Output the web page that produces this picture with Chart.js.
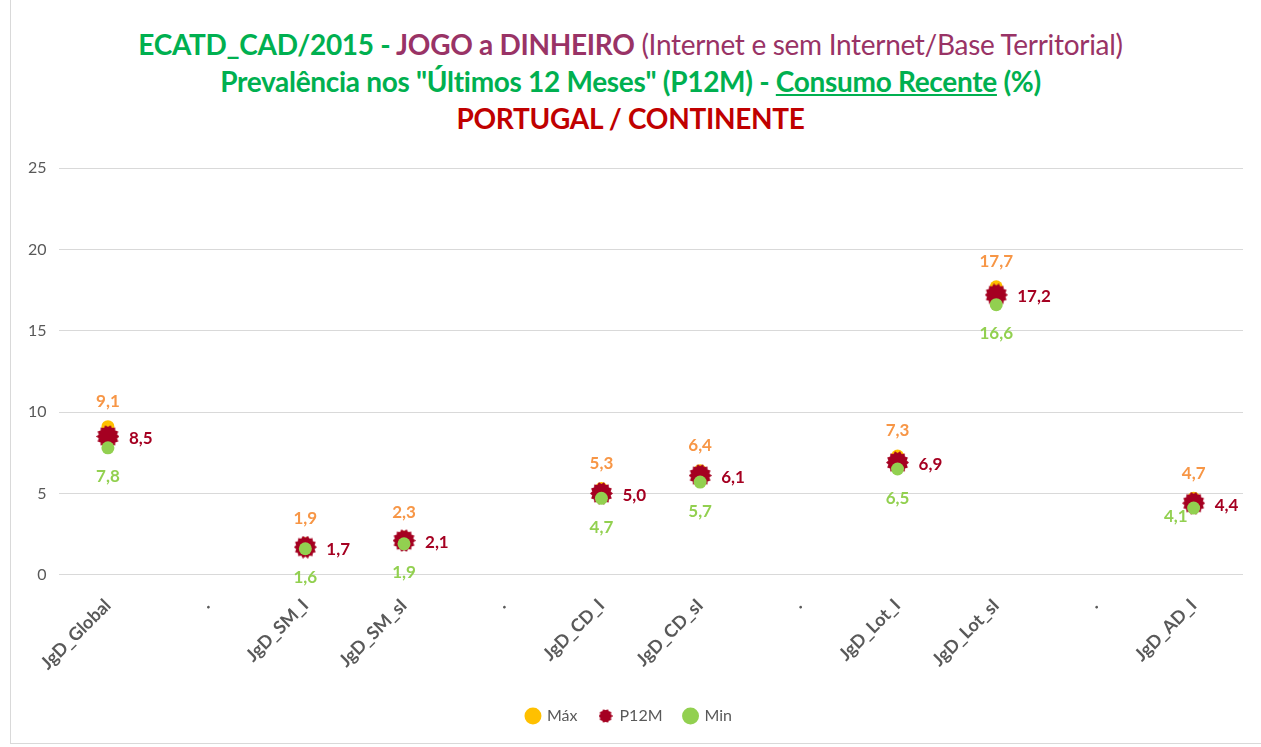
<!DOCTYPE html>
<html>
<head>
<meta charset="utf-8">
<script src="https://cdn.jsdelivr.net/npm/chart.js@4.4.0/dist/chart.umd.min.js"></script>
<style>
  body { margin: 0; background: #fff; font-family: Lato, "Open Sans", sans-serif; }
  #wrap { position: relative; width: 1261px; height: 747px; overflow: hidden; }
  #frame { position: absolute; left: 10px; top: -2px; width: 1260px; height: 746px; border: 1px solid #d9d9d9; box-sizing: border-box; }
  #title { position: absolute; left: 0; top: 26px; width: 1261px; text-align: center; font-size: 28px; line-height: 37px; font-weight: bold; color: #00b050; letter-spacing: -0.3px; }
  .pur { color: #993366; }
  .light { font-weight: normal; }
  .red { color: #c00000; }
  canvas { position: absolute; left: 0; top: 0; }
</style>
</head>
<body>
<div id="wrap">
  <div id="frame"></div>
  <div id="title">
    <div>ECATD_CAD/2015 - <span class="pur">JOGO a DINHEIRO</span><span class="pur light"> (Internet e sem Internet/Base Territorial)</span></div>
    <div>Prevalência nos "Últimos 12 Meses" (P12M) - <u>Consumo Recente</u> (%)</div>
    <div class="red">PORTUGAL / CONTINENTE</div>
  </div>
  <canvas id="chart" width="1261" height="747"></canvas>
</div>
<script>
// Categories ('.' are the spacer columns of the original sheet)
const categories = ['JgD_Global', '.', 'JgD_SM_I', 'JgD_SM_sI', '.', 'JgD_CD_I', 'JgD_CD_sI', '.', 'JgD_Lot_I', 'JgD_Lot_sI', '.', 'JgD_AD_I'];

// Values (%)
const maxValues  = [9.1, null, 1.9, 2.3, null, 5.3, 6.4, null, 7.3, 17.7, null, 4.7];
const p12mValues = [8.5, null, 1.7, 2.1, null, 5.0, 6.1, null, 6.9, 17.2, null, 4.4];
const minValues  = [7.8, null, 1.6, 1.9, null, 4.7, 5.7, null, 6.5, 16.6, null, 4.1];

const yTicks = [0, 5, 10, 15, 20, 25];

const COLOR_MAX = '#ffc000';
const COLOR_P12M = '#a50021';
const COLOR_MIN = '#92d050';
const LABEL_MAX = '#f79646';
const FONT = 'Lato, "Open Sans", sans-serif';

// jagged round marker for P12M
function makeStar(size, teeth) {
    const c = document.createElement('canvas');
    c.width = size; c.height = size;
    const g = c.getContext('2d');
    const r = size / 2, inner = r * 0.82;
    g.beginPath();
    for (let i = 0; i < teeth * 2; i++) {
        const a = (Math.PI * i) / teeth;
        const rr = i % 2 === 0 ? r : inner;
        g.lineTo(r + rr * Math.cos(a), r + rr * Math.sin(a));
    }
    g.closePath();
    g.fillStyle = COLOR_P12M;
    g.fill();
    return c;
}
const starBig = makeStar(23, 14);
const starSmall = makeStar(14, 10);

// label placement per dataset, with one override
const labelPlace = { 'Máx': 'above', 'P12M': 'right', 'Min': 'below' };
const labelOverride = { 'Min': { 11: 'left' } };

const fmt = v => v.toFixed(1).replace('.', ',');

const valueLabels = {
    id: 'valueLabels',
    afterDatasetsDraw(chart) {
        const ctx = chart.ctx;
        ctx.save();
        ctx.font = 'bold 17px ' + FONT;
        ctx.textBaseline = 'middle';
        chart.data.datasets.forEach((ds, di) => {
            const meta = chart.getDatasetMeta(di);
            meta.data.forEach((pt, i) => {
                const v = ds.data[i];
                if (v === null || v === undefined) return;
                let place = labelPlace[ds.label];
                if (labelOverride[ds.label] && labelOverride[ds.label][i]) place = labelOverride[ds.label][i];
                ctx.fillStyle = ds.labelColor;
                let x = pt.x, y = pt.y;
                if (place === 'above') { ctx.textAlign = 'center'; y -= 25; }
                else if (place === 'below') { ctx.textAlign = 'center'; y += 29; }
                else if (place === 'right') { ctx.textAlign = 'left'; x += 21; y += 2; }
                else if (place === 'left') { ctx.textAlign = 'right'; x -= 6; y += 8; }
                ctx.fillText(fmt(v), x, y);
            });
        });
        ctx.restore();
    }
};

new Chart(document.getElementById('chart').getContext('2d'), {
    type: 'line',
    data: {
        labels: categories,
        datasets: [
            { label: 'Máx', data: maxValues, showLine: false, order: 3, pointStyle: 'circle', pointRadius: 6.5, pointHoverRadius: 6.5, backgroundColor: COLOR_MAX, borderColor: COLOR_MAX, pointBorderWidth: 0, labelColor: LABEL_MAX },
            { label: 'P12M', data: p12mValues, showLine: false, order: 2, pointStyle: starBig, pointRadius: 11, backgroundColor: COLOR_P12M, borderColor: COLOR_P12M, labelColor: COLOR_P12M },
            { label: 'Min', data: minValues, showLine: false, order: 1, pointStyle: 'circle', pointRadius: 6.5, pointHoverRadius: 6.5, backgroundColor: COLOR_MIN, borderColor: COLOR_MIN, pointBorderWidth: 0, labelColor: COLOR_MIN }
        ]
    },
    options: {
        responsive: false,
        animation: false,
        layout: { padding: { top: 168, left: 16, right: 18, bottom: 13 } },
        plugins: {
            title: { display: false },
            tooltip: { enabled: false },
            legend: {
                position: 'bottom',
                labels: {
                    usePointStyle: true,
                    boxWidth: 12,
                    boxHeight: 12,
                    padding: 22,
                    color: '#595959',
                    font: { size: 16, family: FONT },
                    sort: (a, b) => a.datasetIndex - b.datasetIndex,
                    generateLabels(chart) {
                        const items = Chart.defaults.plugins.legend.labels.generateLabels(chart);
                        items.forEach(it => { if (it.text === 'P12M') it.pointStyle = starSmall; });
                        return items;
                    }
                }
            }
        },
        scales: {
            x: {
                offset: true,
                grid: { display: false },
                border: { display: false },
                ticks: {
                    color: '#595959',
                    font: { size: 18, weight: 'bold', family: FONT },
                    maxRotation: 45,
                    minRotation: 45,
                    autoSkip: false,
                    padding: 12
                }
            },
            y: {
                min: 0,
                max: 25,
                afterBuildTicks(axis) { axis.ticks = yTicks.map(v => ({ value: v })); },
                grid: { color: '#d9d9d9', drawTicks: false },
                border: { display: false },
                ticks: {
                    color: '#595959',
                    font: { size: 16, family: FONT },
                    padding: 12
                }
            }
        }
    },
    plugins: [valueLabels]
});
</script>
</body>
</html>
